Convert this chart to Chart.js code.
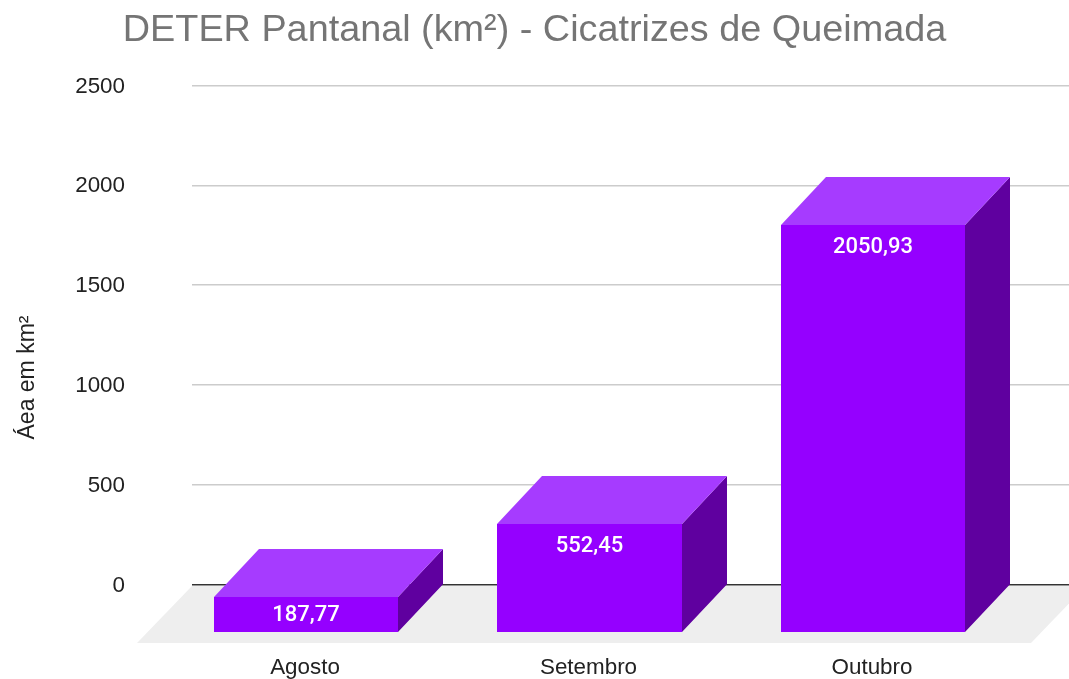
<!DOCTYPE html>
<html>
<head>
<meta charset="utf-8">
<title>DETER Pantanal</title>
<script src="https://cdn.jsdelivr.net/npm/chart.js@4"></script>
<style>
    html, body { margin: 0; padding: 0; background: #fff; }
    canvas { display: block; }
</style>
</head>
<body>
<canvas id="chart" width="1069" height="679"></canvas>
<script>
const categories = ["Agosto", "Setembro", "Outubro"];
const areaValues = [187.77, 552.45, 2050.93];
const barLabels = ["187,77", "552,45", "2050,93"];
const yTicks = [0, 500, 1000, 1500, 2000, 2500];
const chartTitle = "DETER Pantanal (km²) - Cicatrizes de Queimada";
const yAxisTitle = "Áea em km²";

const FONT = "'Liberation Sans', Arial, sans-serif";
const LABEL_FONT = "Roboto, sans-serif";

// 3D look: how far the front of a box sits from its back
const depthX = 45;
const depthY = 48;
const topInset = 1.5;

function poly(ctx, color, pts) {
    ctx.fillStyle = color;
    ctx.beginPath();
    pts.forEach((p, i) => i ? ctx.lineTo(p[0], p[1]) : ctx.moveTo(p[0], p[1]));
    ctx.closePath();
    ctx.fill();
}

// grey floor under the boxes
const floorPlugin = {
    id: "floor",
    beforeDatasetsDraw(chart) {
        const ctx = chart.ctx;
        const area = chart.chartArea;
        const y0 = chart.scales.y.getPixelForValue(0);
        ctx.save();
        poly(ctx, "#eeeeee", [
            [area.left, y0 + 1],
            [area.right + 17, y0 + 1],
            [area.right - 38, y0 + 58],
            [area.left - 55, y0 + 58]
        ]);
        ctx.restore();
    }
};

// front, top and side faces, worked out from each bar element
const boxPlugin = {
    id: "boxes",
    afterDatasetsDraw(chart) {
        const ctx = chart.ctx;
        ctx.save();
        chart.getDatasetMeta(0).data.forEach((bar, i) => {
            const p = bar.getProps(["x", "y", "base", "width"], true);
            const l = Math.round(p.x - p.width / 2);
            const r = Math.round(p.x + p.width / 2);
            const top = Math.round(p.y + topInset);
            const fl = l - depthX, fr = r - depthX;
            const ft = top + depthY, fb = Math.round(p.base) + depthY;
            // side runs 1px under the front so no seam shows
            poly(ctx, "#5f009f", [[fr - 1, ft], [fr, ft], [r, top], [r, p.base], [fr, fb], [fr - 1, fb]]);
            poly(ctx, "#a63bff", [[fl, ft], [l, top], [r, top], [fr, ft]]);
            poly(ctx, "#9500ff", [[fl, ft], [fr, ft], [fr, fb], [fl, fb]]);

            ctx.fillStyle = "#ffffff";
            ctx.font = "500 22px " + LABEL_FONT;
            ctx.textAlign = "center";
            ctx.textBaseline = "middle";
            ctx.fillText(barLabels[i], p.x - depthX, Math.min(ft + 22, (ft + fb) / 2 + 1));
        });
        ctx.restore();
    }
};

// axis title is centred on the whole box height, not on the chart area
const yTitlePlugin = {
    id: "yTitle",
    afterDraw(chart) {
        const ctx = chart.ctx;
        ctx.save();
        ctx.translate(28, 377.5);
        ctx.rotate(-Math.PI / 2);
        ctx.fillStyle = "#222222";
        ctx.font = "23px " + FONT;
        ctx.textAlign = "center";
        ctx.textBaseline = "middle";
        ctx.fillText(yAxisTitle, 0, 0);
        ctx.restore();
    }
};

new Chart(document.getElementById("chart"), {
    type: "bar",
    data: {
        datasets: [{
            data: categories.map((c, i) => ({ x: i, y: areaValues[i] })),
            backgroundColor: "rgba(0,0,0,0)", // faces come from boxPlugin
            barThickness: 184.5
        }]
    },
    options: {
        responsive: false,
        animation: false,
        plugins: {
            legend: { display: false },
            tooltip: { enabled: false },
            title: {
                display: true,
                text: chartTitle,
                color: "#757575",
                font: { family: FONT, size: 37.8, weight: "normal" },
                padding: { top: 8, bottom: 32 }
            }
        },
        scales: {
            x: {
                type: "linear",
                min: -0.5608,
                max: 2.5326,
                offset: false,
                grid: { display: false, drawTicks: false },
                border: { display: false },
                afterBuildTicks(scale) {
                    scale.ticks = categories.map((c, i) => ({ value: i }));
                },
                afterFit(scale) { scale.height = 94; },
                ticks: {
                    autoSkip: false,
                    maxRotation: 0,
                    padding: 69,
                    labelOffset: -depthX - 1,
                    color: "#222222",
                    font: { family: FONT, size: 22.4 },
                    callback: v => categories[v]
                }
            },
            y: {
                min: yTicks[0],
                max: yTicks[yTicks.length - 1],
                grid: {
                    drawTicks: false,
                    lineWidth: 1.5,
                    color: c => c.tick.value === 0 ? "#333333" : "#cccccc"
                },
                border: { display: false },
                afterBuildTicks(scale) {
                    scale.ticks = yTicks.map(v => ({ value: v }));
                },
                afterFit(scale) { scale.width = 192; },
                ticks: {
                    padding: 67,
                    labelOffset: 1,
                    color: "#222222",
                    font: { family: FONT, size: 22.4 },
                    callback: v => String(v)
                }
            }
        }
    },
    plugins: [floorPlugin, boxPlugin, yTitlePlugin]
});
</script>
</body>
</html>
